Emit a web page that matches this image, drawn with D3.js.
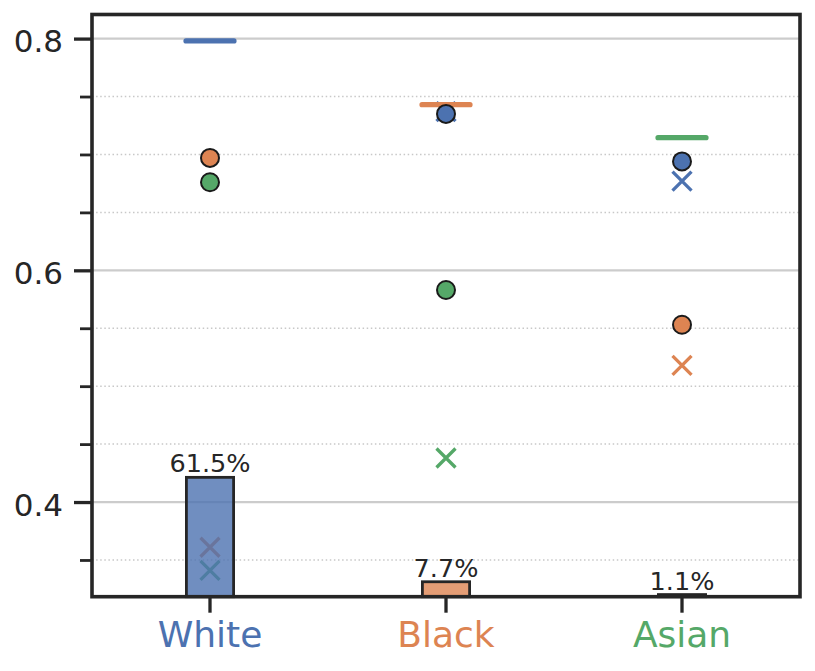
<!DOCTYPE html>
<html>
<head>
<meta charset="utf-8">
<script src="https://cdn.jsdelivr.net/npm/d3@7"></script>
<style>
  html, body { margin: 0; padding: 0; background: #ffffff; }
  svg { display: block; font-family: "DejaVu Sans", sans-serif; }
</style>
</head>
<body>
<svg id="chart" width="815" height="671"></svg>
<script>
// ---- data ----
const categories = ["White", "Black", "Asian"];
const categoryColors = ["#4c72b0", "#dd8452", "#55a868"];
const shares = [0.615, 0.077, 0.011];
const shareLabels = ["61.5%", "7.7%", "1.1%"];
const dashValues = [0.798, 0.743, 0.7145];
const circleBlue = [null, 0.735, 0.694];
const circleOrange = [0.697, null, 0.553];
const circleGreen = [0.676, 0.583, null];
const crossBlue = [null, 0.737, 0.677];
const crossOrange = [0.361, null, 0.518];
const crossGreen = [0.341, 0.438, null];
const majorTicks = [0.4, 0.6, 0.8];
const minorTicks = [0.35, 0.45, 0.5, 0.55, 0.65, 0.7, 0.75];

// ---- layout ----
const plotLeft = 92, plotRight = 800, plotTop = 14.5, plotBottom = 596.7;
const ink = "#262626";
const svg = d3.select("#chart");

const x = d3.scaleBand().domain(categories).range([plotLeft, plotRight]).padding(0);
const y = d3.scaleLinear().domain([0.3183, 0.8208]).range([plotBottom, plotTop]);
const yShare = d3.scaleLinear().domain([0, 3]).range([plotBottom, plotTop]);
const cx = (i) => x(categories[i]) + x.bandwidth() / 2;

// gridlines
svg.append("g").selectAll("line").data(majorTicks).join("line")
  .attr("x1", plotLeft).attr("x2", plotRight)
  .attr("y1", d => y(d)).attr("y2", d => y(d))
  .attr("stroke", "#cccccc").attr("stroke-width", 2.2);
svg.append("g").selectAll("line").data(minorTicks).join("line")
  .attr("x1", plotLeft).attr("x2", plotRight)
  .attr("y1", d => y(d)).attr("y2", d => y(d))
  .attr("stroke", "#c8c8c8").attr("stroke-width", 1.5)
  .attr("stroke-dasharray", "1.5,2.6");

// crosses
const crossSeries = [
  { vals: crossBlue, color: categoryColors[0] },
  { vals: crossOrange, color: categoryColors[1] },
  { vals: crossGreen, color: categoryColors[2] }
];
const cs = 9.5;
const gCross = svg.append("g");
crossSeries.forEach(s => {
  s.vals.forEach((v, i) => {
    if (v == null) return;
    const px = cx(i), py = y(v);
    gCross.append("path")
      .attr("d", `M${px - cs},${py - cs}L${px + cs},${py + cs}M${px - cs},${py + cs}L${px + cs},${py - cs}`)
      .attr("stroke", s.color).attr("stroke-width", 3.3).attr("fill", "none");
  });
});

// bars
const barW = x.bandwidth() * 0.2;
svg.append("g").selectAll("rect").data(shares).join("rect")
  .attr("x", (d, i) => cx(i) - barW / 2)
  .attr("width", barW)
  .attr("y", d => yShare(d))
  .attr("height", d => plotBottom - yShare(d))
  .attr("fill", (d, i) => categoryColors[i])
  .attr("fill-opacity", 0.8)
  .attr("stroke", ink).attr("stroke-width", 2.8);

svg.append("g").selectAll("text").data(shares).join("text")
  .attr("x", (d, i) => cx(i))
  .attr("y", d => yShare(d) - 5)
  .attr("text-anchor", "middle")
  .attr("font-size", 25.5)
  .attr("fill", ink)
  .text((d, i) => shareLabels[i]);

// dashes
svg.append("g").selectAll("line").data(dashValues).join("line")
  .attr("x1", (d, i) => cx(i) - 24).attr("x2", (d, i) => cx(i) + 24)
  .attr("y1", d => y(d)).attr("y2", d => y(d))
  .attr("stroke", (d, i) => categoryColors[i])
  .attr("stroke-width", 5.2).attr("stroke-linecap", "round");

// circles
const circleSeries = [
  { vals: circleBlue, color: categoryColors[0] },
  { vals: circleOrange, color: categoryColors[1] },
  { vals: circleGreen, color: categoryColors[2] }
];
const gCirc = svg.append("g");
circleSeries.forEach(s => {
  s.vals.forEach((v, i) => {
    if (v == null) return;
    gCirc.append("circle")
      .attr("cx", cx(i)).attr("cy", y(v)).attr("r", 9)
      .attr("fill", s.color).attr("stroke", "#1a1a1a").attr("stroke-width", 2);
  });
});

// axes
const yMajor = d3.axisLeft(y).tickValues(majorTicks).tickSize(18).tickPadding(11)
  .tickFormat(d3.format(".1f"));
const gy = svg.append("g").attr("transform", `translate(${plotLeft},0)`).call(yMajor);
gy.select(".domain").remove();
gy.selectAll(".tick line").attr("stroke", ink).attr("stroke-width", 3.3);
gy.selectAll(".tick text").attr("font-size", 31).attr("fill", ink)
  .attr("font-family", "DejaVu Sans").attr("dy", "0.43em");

const yMinor = d3.axisLeft(y).tickValues(minorTicks).tickSize(12).tickFormat("");
const gym = svg.append("g").attr("transform", `translate(${plotLeft},0)`).call(yMinor);
gym.select(".domain").remove();
gym.selectAll(".tick line").attr("stroke", ink).attr("stroke-width", 2.8);

const xAxis = d3.axisBottom(x).tickSize(16).tickPadding(9);
const gx = svg.append("g").attr("transform", `translate(0,${plotBottom})`).call(xAxis);
gx.select(".domain").remove();
gx.selectAll(".tick line").attr("stroke", ink).attr("stroke-width", 3.3);
gx.selectAll(".tick text").attr("font-size", 36).attr("font-family", "DejaVu Sans")
  .attr("fill", (d, i) => categoryColors[i]);

// frame
svg.append("rect")
  .attr("x", plotLeft).attr("y", plotTop)
  .attr("width", plotRight - plotLeft).attr("height", plotBottom - plotTop)
  .attr("fill", "none").attr("stroke", ink).attr("stroke-width", 3.6);
</script>
</body>
</html>
